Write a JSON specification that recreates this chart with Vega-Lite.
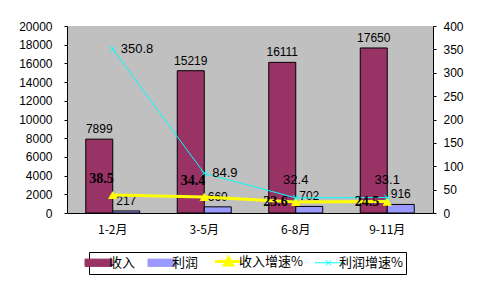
{
  "$schema": "https://vega.github.io/schema/vega-lite/v6.json",
  "width": 366,
  "height": 187,
  "autosize": {"type": "none"},
  "padding": {"left": 67, "top": 26, "right": 54, "bottom": 69},
  "background": "white",
  "config": {
    "view": {"fill": "#C0C0C0", "stroke": null},
    "font": "Liberation Sans",
    "axis": {"labelColor": "black", "domainColor": "black", "tickColor": "black", "grid": false, "title": null, "labelFont": "Liberation Sans", "labelFontSize": 12}
  },
  "data": {
    "values": [
      {"period": "1-2月", "收入": 7899, "利润": 217, "收入增速%": 38.5, "利润增速%": 350.8},
      {"period": "3-5月", "收入": 15219, "利润": 660, "收入增速%": 34.4, "利润增速%": 84.9},
      {"period": "6-8月", "收入": 16111, "利润": 702, "收入增速%": 23.6, "利润增速%": 32.4},
      {"period": "9-11月", "收入": 17650, "利润": 916, "收入增速%": 24.5, "利润增速%": 33.1}
    ]
  },
  "encoding": {
    "x": {
      "field": "period", "type": "nominal",
      "sort": ["1-2月", "3-5月", "6-8月", "9-11月"],
      "scale": {"paddingInner": 0.41, "paddingOuter": 0.205},
      "axis": {"labelAngle": 0, "ticks": false, "labelPadding": 11, "labelFont": "Noto Sans CJK SC", "labelFontSize": 12, "domainWidth": 1}
    }
  },
  "layer": [
    {
      "transform": [{"fold": ["收入", "利润"], "as": ["series", "value"]}],
      "encoding": {
        "y": {"field": "value", "type": "quantitative", "scale": {"domain": [0, 20000], "nice": false},
          "axis": {"values": [0, 2000, 4000, 6000, 8000, 10000, 12000, 14000, 16000, 18000, 20000], "tickSize": 3, "labelPadding": 12, "format": "d"}},
        "xOffset": {"field": "series", "type": "nominal", "sort": ["收入", "利润"], "scale": {"domain": ["收入", "利润"], "paddingInner": 0, "paddingOuter": 0}}
      },
      "layer": [
        {
          "mark": {"type": "bar", "stroke": "black", "strokeWidth": 1, "opacity": 1},
          "encoding": {
            "fill": {"field": "series", "type": "nominal",
              "scale": {"domain": ["收入", "利润"], "range": ["#993366", "#9999FF"]},
              "legend": null}
          }
        },
        {
          "mark": {"type": "text", "baseline": "bottom", "dy": -3, "fontSize": 12, "color": "black", "font": "Liberation Sans"},
          "encoding": {"text": {"field": "value", "type": "quantitative", "format": "d"}}
        }
      ]
    },
    {
      "transform": [{"fold": ["收入增速%", "利润增速%"], "as": ["series", "rate"]}],
      "encoding": {
        "y": {"field": "rate", "type": "quantitative", "scale": {"domain": [0, 400], "nice": false},
          "axis": {"orient": "right", "values": [0, 50, 100, 150, 200, 250, 300, 350, 400], "tickSize": 3, "labelPadding": 7}}
      },
      "layer": [
        {
          "mark": {"type": "line"},
          "encoding": {
            "color": {"field": "series", "type": "nominal",
              "scale": {"domain": ["收入", "利润", "收入增速%", "利润增速%"], "range": ["#993366", "#9999FF", "#FFFF00", "#00FFFF"]},
              "legend": {
                "title": null, "orient": "none", "legendX": 22, "legendY": 226,
                "direction": "horizontal", "columns": 4,
                "strokeColor": "black", "padding": 3,
                "symbolSize": 729, "symbolStrokeWidth": 1,
                "labelFont": "Noto Sans CJK SC", "labelFontSize": 13, "labelColor": "black",
                "labelOffset": 4, "columnPadding": 10,
                "encode": {
                  "legend": {"update": {
                    "stroke": {"value": "black"},
                    "strokeWidth": {"value": 1}
                  }},
                  "symbols": {"update": {
                    "shape": {"signal": "datum.value === '收入' || datum.value === '利润' ? 'M-1,-0.27H1V0.27H-1Z' : (datum.value === '收入增速%' ? 'M-1,0H1M-0.3,0.25L0,-0.3L0.3,0.25Z' : 'M-1,0H1M-0.2,-0.2L0.2,0.2M-0.2,0.2L0.2,-0.2')"},
                    "fill": {"signal": "datum.value === '收入' ? '#993366' : (datum.value === '利润' ? '#9999FF' : (datum.value === '收入增速%' ? '#FFFF00' : 'transparent'))"},
                    "stroke": {"signal": "datum.value === '收入' || datum.value === '利润' ? 'black' : (datum.value === '收入增速%' ? '#FFFF00' : '#00FFFF')"},
                    "strokeWidth": {"signal": "datum.value === '收入增速%' ? 3 : 1"},
                    "opacity": {"value": 1}
                  }}
                }
              }},
            "size": {"field": "series", "type": "nominal", "scale": {"domain": ["收入增速%", "利润增速%"], "range": [3, 1]}, "legend": null}
          }
        },
        {
          "transform": [{"filter": "datum.series === '收入增速%'"}],
          "mark": {"type": "point", "shape": "triangle-up", "filled": true, "color": "#FFFF00", "size": 90, "opacity": 1},
          "encoding": {}
        },
        {
          "transform": [{"filter": "datum.series === '利润增速%'"}],
          "mark": {"type": "point", "shape": "M-1,-1L1,1M-1,1L1,-1", "filled": false, "stroke": "#00FFFF", "strokeWidth": 1, "size": 36, "opacity": 1},
          "encoding": {}
        },
        {
          "transform": [{"filter": "datum.series === '利润增速%' && datum.rate > 50"}],
          "mark": {"type": "text", "align": "left", "baseline": "middle", "dx": 8, "fontSize": 13, "color": "black", "font": "Liberation Sans"},
          "encoding": {"text": {"field": "rate", "type": "quantitative", "format": ".1f"}}
        },
        {
          "transform": [{"filter": "datum.series === '利润增速%' && datum.rate <= 50"}],
          "mark": {"type": "text", "align": "center", "baseline": "middle", "dy": -18, "fontSize": 13, "color": "black", "font": "Liberation Sans"},
          "encoding": {"text": {"field": "rate", "type": "quantitative", "format": ".1f"}}
        },
        {
          "transform": [{"filter": "datum.series === '收入增速%' && datum.rate > 30"}],
          "mark": {"type": "text", "align": "right", "baseline": "middle", "dx": 1, "dy": -16, "fontSize": 14, "fontWeight": "bold", "color": "black", "font": "Liberation Serif"},
          "encoding": {"text": {"field": "rate", "type": "quantitative", "format": ".1f"}}
        },
        {
          "transform": [{"filter": "datum.series === '收入增速%' && datum.rate <= 30"}],
          "mark": {"type": "text", "align": "right", "baseline": "middle", "dx": -8, "dy": 0, "fontSize": 14, "fontWeight": "bold", "color": "black", "font": "Liberation Serif"},
          "encoding": {"text": {"field": "rate", "type": "quantitative", "format": ".1f"}}
        }
      ]
    }
  ],
  "resolve": {"scale": {"y": "independent"}}
}
